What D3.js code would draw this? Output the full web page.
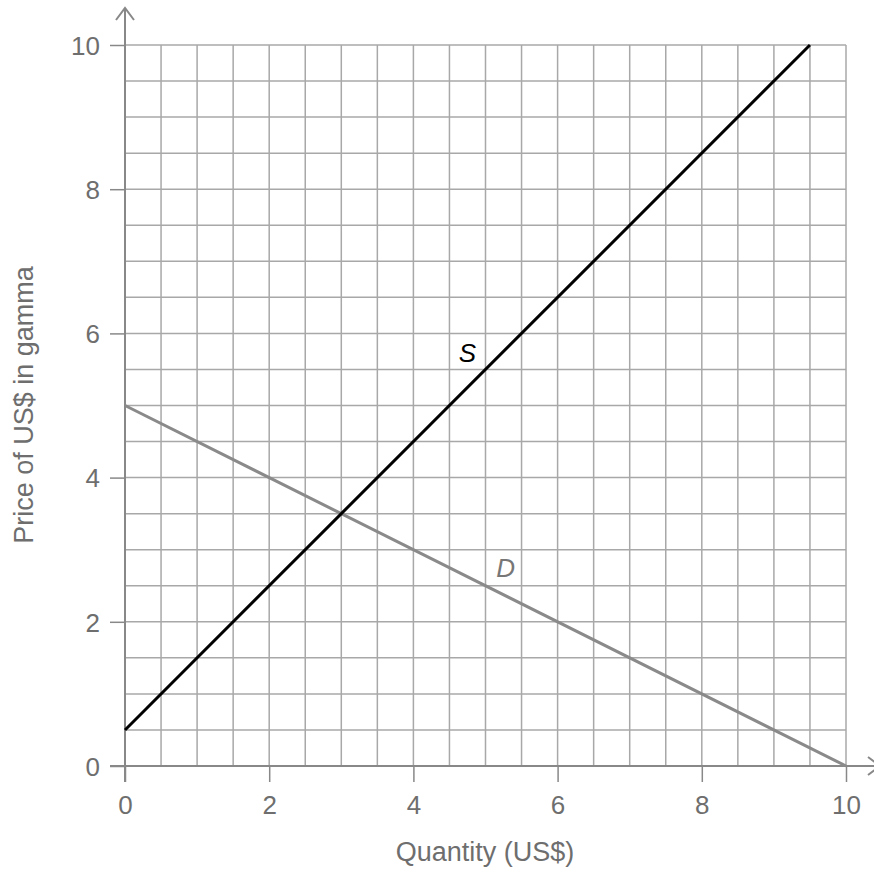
<!DOCTYPE html>
<html>
<head>
<meta charset="utf-8">
<script src="https://cdn.jsdelivr.net/npm/d3@7"></script>
<style>
  body { margin: 0; background: #fff; }
  svg { display: block; font-family: "Liberation Sans", Arial, sans-serif; }
</style>
</head>
<body>
<div id="chart-area"></div>
<script>
// data
var gridSteps = d3.range(0, 10.01, 0.5);
var tickValues = [0, 2, 4, 6, 8, 10];
var supplyLine = [{q: 0, p: 0.5}, {q: 9.5, p: 10}];
var demandLine = [{q: 0, p: 5}, {q: 10, p: 0}];
var lineLabels = [
  {name: "S", q: 4.75, p: 5.73, color: "#000"},
  {name: "D", q: 5.28, p: 2.75, color: "#777"}
];

var W = 874, H = 873;

var svg = d3.select("#chart-area")
  .append("svg")
    .attr("width", W)
    .attr("height", H);

var x = d3.scaleLinear().domain([0, 10]).range([125, 846]);
var y = d3.scaleLinear().domain([0, 10]).range([766, 45]);

// grid
svg.append("g")
  .selectAll("line")
  .data(gridSteps)
  .enter().append("line")
    .attr("x1", d => x(d)).attr("x2", d => x(d))
    .attr("y1", y(0)).attr("y2", y(10))
    .attr("stroke", "#a8a8a8")
    .attr("stroke-width", 1.5);

svg.append("g")
  .selectAll("line")
  .data(gridSteps)
  .enter().append("line")
    .attr("y1", d => y(d)).attr("y2", d => y(d))
    .attr("x1", x(0)).attr("x2", x(10))
    .attr("stroke", "#a8a8a8")
    .attr("stroke-width", 1.5);

// axes
var xAxisCall = d3.axisBottom(x)
  .tickValues(tickValues)
  .tickSize(16)
  .tickPadding(14)
  .tickFormat(d3.format("d"));
var xAxis = svg.append("g")
  .attr("transform", "translate(0," + y(0) + ")")
  .call(xAxisCall);

var yAxisCall = d3.axisLeft(y)
  .tickValues(tickValues)
  .tickSize(15)
  .tickPadding(10)
  .tickFormat(d3.format("d"));
var yAxis = svg.append("g")
  .attr("transform", "translate(" + x(0) + ",0)")
  .call(yAxisCall);

[xAxis, yAxis].forEach(function(a) {
  a.select(".domain").remove();
  a.selectAll(".tick line").attr("stroke", "#888").attr("stroke-width", 1.5);
  a.selectAll(".tick text")
    .attr("fill", "#6e6e6e")
    .attr("font-size", "26px")
    .attr("font-family", "Liberation Sans, Arial, sans-serif");
});
yAxis.selectAll(".tick text").attr("dy", "0.36em");

// axis lines with arrows
svg.append("line")
  .attr("x1", 110).attr("x2", W)
  .attr("y1", y(0)).attr("y2", y(0))
  .attr("stroke", "#888").attr("stroke-width", 2);
svg.append("line")
  .attr("x1", x(0)).attr("x2", x(0))
  .attr("y1", y(0) + 16).attr("y2", 8)
  .attr("stroke", "#888").attr("stroke-width", 2);

svg.append("path")
  .attr("d", "M" + (x(0) - 9) + ",20 L" + x(0) + ",8 L" + (x(0) + 9) + ",20")
  .attr("fill", "none").attr("stroke", "#888").attr("stroke-width", 2);
svg.append("path")
  .attr("d", "M868," + (y(0) - 9) + " L880," + y(0) + " L868," + (y(0) + 9))
  .attr("fill", "none").attr("stroke", "#888").attr("stroke-width", 2);

// curves
var line = d3.line().x(d => x(d.q)).y(d => y(d.p));

svg.append("path")
  .datum(demandLine)
  .attr("d", line)
  .attr("fill", "none")
  .attr("stroke", "#8a8a8a")
  .attr("stroke-width", 3);

svg.append("path")
  .datum(supplyLine)
  .attr("d", line)
  .attr("fill", "none")
  .attr("stroke", "#000")
  .attr("stroke-width", 3);

svg.selectAll(".curve-label")
  .data(lineLabels)
  .enter().append("text")
    .attr("class", "curve-label")
    .attr("x", d => x(d.q))
    .attr("y", d => y(d.p))
    .attr("dy", "0.36em")
    .attr("text-anchor", "middle")
    .attr("font-size", "26px")
    .attr("font-style", "italic")
    .attr("fill", d => d.color)
    .text(d => d.name);

// X Label
svg.append("text")
  .attr("x", 485)
  .attr("y", 861)
  .attr("text-anchor", "middle")
  .attr("font-size", "27px")
  .attr("fill", "#6e6e6e")
  .text("Quantity (US$)");

// Y Label
svg.append("text")
  .attr("x", -405)
  .attr("y", 33)
  .attr("text-anchor", "middle")
  .attr("font-size", "27px")
  .attr("fill", "#6e6e6e")
  .attr("transform", "rotate(-90)")
  .text("Price of US$ in gamma");
</script>
</body>
</html>
